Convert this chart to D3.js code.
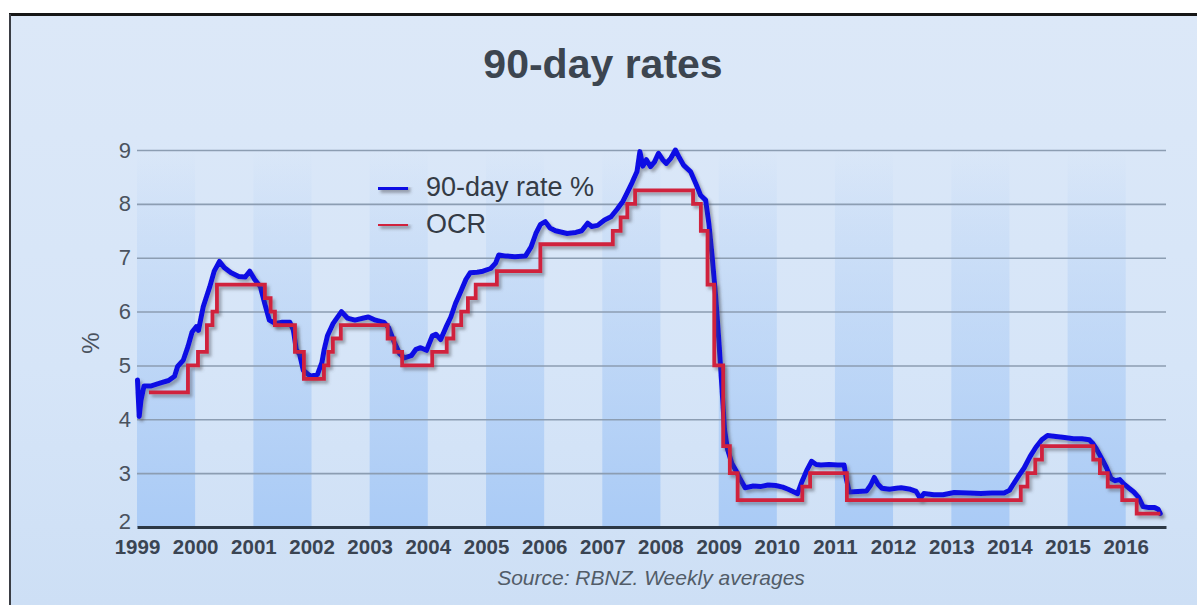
<!DOCTYPE html>
<html>
<head>
<meta charset="utf-8">
<script src="https://cdn.jsdelivr.net/npm/d3@7"></script>
<style>
  html, body { margin: 0; padding: 0; background: #ffffff; }
  svg { display: block; }
</style>
</head>
<body>
<svg id="chart" width="1197" height="605"></svg>
<script>
// 90-day bank bill rate, weekly averages (sampled)
const bankBillDates = [
  "1999-01-04","1999-01-15","1999-01-26","1999-02-14","1999-04-01","1999-05-25","1999-07-19","1999-08-25",
  "1999-09-13","1999-10-19","1999-11-17","1999-12-13","2000-01-08","2000-01-22","2000-02-21","2000-04-01",
  "2000-04-30","2000-06-02","2000-07-01","2000-08-14","2000-10-01","2000-11-10","2000-12-09","2001-01-08",
  "2001-02-14","2001-03-13","2001-04-11","2001-05-17","2001-07-01","2001-08-18","2001-09-09","2001-09-27",
  "2001-10-19","2001-11-10","2001-12-24","2002-02-07","2002-03-07","2002-03-22","2002-04-11","2002-05-17",
  "2002-07-08","2002-08-14","2002-10-01","2002-11-25","2002-12-24","2003-02-07","2003-04-01","2003-04-30",
  "2003-06-02","2003-07-08","2003-08-07","2003-09-20","2003-10-19","2003-11-17","2003-12-24","2004-01-30",
  "2004-02-21","2004-03-22","2004-04-26","2004-05-25","2004-06-23","2004-07-23","2004-08-28","2004-09-23",
  "2004-11-07","2004-12-13","2005-01-30","2005-03-02","2005-03-22","2005-05-07","2005-07-01","2005-09-05",
  "2005-10-11","2005-11-10","2005-12-09","2006-01-08","2006-02-07","2006-03-13","2006-05-25","2006-07-19",
  "2006-08-25","2006-10-01","2006-10-27","2006-12-03","2007-01-15","2007-02-25","2007-04-04","2007-05-11",
  "2007-06-05","2007-07-08","2007-08-07","2007-08-25","2007-09-13","2007-10-05","2007-10-31","2007-11-25",
  "2007-12-20","2008-01-15","2008-02-07","2008-03-07","2008-04-04","2008-04-30","2008-05-25","2008-07-08",
  "2008-08-14","2008-09-09","2008-10-11","2008-10-31","2008-11-21","2008-12-13","2009-01-01","2009-01-19",
  "2009-02-07","2009-02-25","2009-03-25","2009-04-19","2009-05-14","2009-06-16","2009-08-07","2009-09-20",
  "2009-11-07","2009-12-24","2010-02-07","2010-03-13","2010-04-19","2010-05-11","2010-06-09","2010-07-08",
  "2010-08-07","2010-09-05","2010-10-05","2010-11-25","2011-01-19","2011-02-28","2011-03-13","2011-04-01",
  "2011-05-25","2011-07-19","2011-08-14","2011-09-05","2011-09-27","2011-10-23","2011-12-09","2012-01-22",
  "2012-02-21","2012-04-19","2012-05-25","2012-06-20","2012-07-12","2012-09-13","2012-11-10","2013-01-19",
  "2013-04-19","2013-07-05","2013-09-13","2013-11-28","2014-01-01","2014-01-22","2014-02-28","2014-04-04",
  "2014-05-11","2014-06-16","2014-07-23","2014-08-28","2014-10-19","2014-12-13","2015-02-07","2015-04-01",
  "2015-05-17","2015-06-09","2015-07-01","2015-08-07","2015-09-02","2015-10-01","2015-10-27","2015-11-25",
  "2015-12-20","2016-01-22","2016-02-21","2016-03-22","2016-04-19","2016-05-25","2016-07-01","2016-07-23",
  "2016-08-05"
];
const bankBillValues = [
  4.73,4.05,4.35,4.62,4.62,4.67,4.72,4.80,
  4.98,5.10,5.35,5.62,5.72,5.65,6.09,6.45,
  6.75,6.93,6.82,6.72,6.65,6.64,6.75,6.60,
  6.46,6.15,5.84,5.78,5.80,5.80,5.66,5.30,
  5.20,4.91,4.80,4.83,5.05,5.30,5.55,5.78,
  6.00,5.88,5.84,5.88,5.90,5.84,5.80,5.70,
  5.45,5.22,5.14,5.18,5.30,5.33,5.28,5.55,
  5.58,5.48,5.72,5.90,6.15,6.35,6.60,6.72,
  6.73,6.75,6.80,6.90,7.05,7.03,7.02,7.03,
  7.20,7.45,7.62,7.67,7.55,7.50,7.45,7.47,
  7.50,7.64,7.58,7.60,7.70,7.76,7.90,8.05,
  8.20,8.40,8.60,8.97,8.70,8.82,8.69,8.78,
  8.94,8.82,8.75,8.85,9.00,8.85,8.72,8.60,
  8.35,8.16,8.07,7.64,7.02,6.28,5.50,4.70,
  3.80,3.45,3.18,3.05,2.90,2.73,2.76,2.75,
  2.78,2.77,2.74,2.70,2.65,2.62,2.85,3.05,
  3.22,3.16,3.15,3.16,3.15,3.15,2.90,2.65,
  2.66,2.67,2.78,2.92,2.80,2.72,2.70,2.72,
  2.73,2.70,2.66,2.53,2.62,2.60,2.60,2.64,
  2.63,2.62,2.63,2.63,2.68,2.78,2.95,3.10,
  3.31,3.48,3.62,3.70,3.68,3.66,3.64,3.64,
  3.62,3.55,3.45,3.25,3.10,2.90,2.86,2.88,
  2.80,2.72,2.65,2.55,2.38,2.36,2.36,2.33,
  2.25
];

// Official Cash Rate decisions (effective dates)
const ocrDates = [
  "1999-03-17","1999-11-17","2000-01-19","2000-03-15","2000-04-19","2000-05-17","2001-03-14","2001-04-19",
  "2001-05-16","2001-09-19","2001-11-14","2002-03-20","2002-04-17","2002-05-15","2002-07-04","2003-04-24",
  "2003-06-05","2003-07-24","2004-01-29","2004-04-29","2004-06-10","2004-07-29","2004-09-09","2004-10-28",
  "2005-03-10","2005-12-08","2007-03-08","2007-04-26","2007-06-07","2007-07-26","2008-07-24","2008-09-11",
  "2008-10-23","2008-12-04","2009-01-29","2009-03-12","2009-04-30","2010-06-10","2010-07-29","2011-03-17",
  "2014-03-13","2014-04-24","2014-06-12","2014-07-24","2015-06-11","2015-07-23","2015-09-10","2015-12-10",
  "2016-03-10","2016-08-05"
];
const ocrValues = [
  4.50,5.00,5.25,5.75,6.00,6.50,6.25,6.00,
  5.75,5.25,4.75,5.00,5.25,5.50,5.75,5.50,
  5.25,5.00,5.25,5.50,5.75,6.00,6.25,6.50,
  6.75,7.25,7.50,7.75,8.00,8.25,8.00,7.50,
  6.50,5.00,3.50,3.00,2.50,2.75,3.00,2.50,
  2.75,3.00,3.25,3.50,3.25,3.00,2.75,2.50,
  2.25,2.25
];

const yearTicks = d3.range(1999, 2017);
const rateTicks = [2, 3, 4, 5, 6, 7, 8, 9];
const seriesNames = ["90-day rate %", "OCR"];

const parse = d3.timeParse("%Y-%m-%d");
const bankBill = bankBillDates.map((d, i) => ({ date: parse(d), value: bankBillValues[i] }));
const ocr = ocrDates.map((d, i) => ({ date: parse(d), value: ocrValues[i] }));

const W = 1197, H = 605;
const plot = { left: 137, right: 1166, top: 150, bottom: 527 };

const svg = d3.select("#chart");
const defs = svg.append("defs");

const bg = defs.append("linearGradient").attr("id", "panelGrad")
  .attr("x1", 0).attr("y1", 0).attr("x2", 0).attr("y2", 1);
bg.append("stop").attr("offset", "0%").attr("stop-color", "#dce8f8");
bg.append("stop").attr("offset", "60%").attr("stop-color", "#d6e5f8");
bg.append("stop").attr("offset", "100%").attr("stop-color", "#cddff5");

const bandGrad = defs.append("linearGradient").attr("id", "bandGrad")
  .attr("gradientUnits", "userSpaceOnUse")
  .attr("x1", 0).attr("y1", plot.top).attr("x2", 0).attr("y2", plot.bottom);
bandGrad.append("stop").attr("offset", "0%").attr("stop-color", "#aecdf5").attr("stop-opacity", 0);
bandGrad.append("stop").attr("offset", "20%").attr("stop-color", "#aecdf5").attr("stop-opacity", 0.25);
bandGrad.append("stop").attr("offset", "100%").attr("stop-color", "#aacbf6").attr("stop-opacity", 1);

// soft drop shadow under the series lines (user-space region so flat lines keep it)
const shadow = defs.append("filter").attr("id", "lineShadow")
  .attr("filterUnits", "userSpaceOnUse")
  .attr("x", 0).attr("y", 0).attr("width", W).attr("height", H);
shadow.append("feDropShadow").attr("dx", 2.5).attr("dy", 3).attr("stdDeviation", 1.4)
  .attr("flood-color", "#4a4a55").attr("flood-opacity", 0.45);

// panel
svg.append("rect").attr("x", 9).attr("y", 14).attr("width", W - 9).attr("height", H - 14)
  .attr("fill", "url(#panelGrad)");
svg.append("line").attr("x1", 9).attr("x2", W).attr("y1", 14.5).attr("y2", 14.5)
  .attr("stroke", "#161616").attr("stroke-width", 3);
svg.append("line").attr("x1", 10).attr("x2", 10).attr("y1", 14).attr("y2", H)
  .attr("stroke", "#3a3d44").attr("stroke-width", 2);

const x = d3.scaleTime()
  .domain([new Date(1999, 0, 1), new Date(2016, 8, 10)])
  .range([plot.left, plot.right]);
const y = d3.scaleLinear().domain([2, 9]).range([plot.bottom, plot.top]);

// alternating year bands
svg.append("g").selectAll("rect")
  .data(yearTicks.filter(yr => yr % 2 === 1))
  .join("rect")
  .attr("x", yr => x(new Date(yr, 0, 1)))
  .attr("width", yr => Math.min(x(new Date(yr + 1, 0, 1)), plot.right) - x(new Date(yr, 0, 1)))
  .attr("y", plot.top)
  .attr("height", plot.bottom - plot.top)
  .attr("fill", "url(#bandGrad)");

// y axis with gridlines
const yAxis = svg.append("g")
  .attr("transform", `translate(${plot.left},0)`)
  .call(d3.axisLeft(y).tickValues(rateTicks).tickFormat(d3.format("d"))
    .tickSize(-(plot.right - plot.left)).tickPadding(6));
yAxis.select(".domain").remove();
yAxis.selectAll(".tick line")
  .attr("stroke", "#8c9db2").attr("stroke-width", 1.6)
  .attr("stroke-opacity", d => d === 2 ? 0 : 1);
yAxis.selectAll(".tick text")
  .attr("fill", "#4a525e")
  .style("font-family", "'Liberation Sans', Arial, sans-serif")
  .style("font-size", "22px");
// the lowest label sits just above the year labels
yAxis.selectAll(".tick text").filter(d => d === 2).attr("dy", "0.05em");

// x axis
const xAxis = svg.append("g")
  .attr("transform", `translate(0,${plot.bottom})`)
  .call(d3.axisBottom(x).tickValues(yearTicks.map(yr => new Date(yr, 0, 1)))
    .tickFormat(d3.timeFormat("%Y")).tickSize(0).tickPadding(12));
xAxis.select(".domain")
  .attr("stroke", "#2c3845").attr("stroke-width", 3.2);
xAxis.selectAll(".tick text")
  .attr("fill", "#3a4452")
  .style("font-family", "'Liberation Sans', Arial, sans-serif")
  .style("font-size", "20.5px")
  .style("font-weight", "bold");

// series
const line = d3.line().x(d => x(d.date)).y(d => y(d.value));
const stepLine = d3.line().x(d => x(d.date)).y(d => y(d.value)).curve(d3.curveStepAfter);

svg.append("path").datum(bankBill)
  .attr("d", line)
  .attr("fill", "none").attr("stroke", "#1010e4").attr("stroke-width", 5)
  .attr("stroke-linejoin", "round").attr("stroke-linecap", "round")
  .attr("filter", "url(#lineShadow)");

svg.append("path").datum(ocr)
  .attr("d", stepLine)
  .attr("fill", "none").attr("stroke", "#d0203e").attr("stroke-width", 3.8)
  .attr("stroke-linejoin", "miter")
  .attr("filter", "url(#lineShadow)");

// legend
const legend = svg.append("g").attr("transform", "translate(378,187)");
const legendColors = ["#1010e4", "#d0203e"];
const legendWidths = [6, 4];
seriesNames.forEach((name, i) => {
  const g = legend.append("g").attr("transform", `translate(0,${i * 37})`);
  g.append("line").attr("x1", 0).attr("x2", 30).attr("y1", 0).attr("y2", 0)
    .attr("stroke", legendColors[i]).attr("stroke-width", legendWidths[i])
    .attr("filter", "url(#lineShadow)");
  g.append("text").attr("x", 48).attr("y", 0).attr("dy", "0.35em")
    .attr("fill", "#343b45")
    .style("font-family", "'Liberation Sans', Arial, sans-serif")
    .style("font-size", "27px")
    .text(name);
});

// titles
svg.append("text").attr("x", 603).attr("y", 78).attr("text-anchor", "middle")
  .attr("fill", "#3c4550")
  .style("font-family", "'Liberation Sans', Arial, sans-serif")
  .style("font-size", "41px").style("font-weight", "bold")
  .text("90-day rates");

svg.append("text")
  .attr("transform", "translate(99,343) rotate(-90)")
  .attr("text-anchor", "middle")
  .attr("fill", "#4a525e")
  .style("font-family", "'Liberation Sans', Arial, sans-serif")
  .style("font-size", "24px")
  .text("%");

svg.append("text").attr("x", 651).attr("y", 585).attr("text-anchor", "middle")
  .attr("fill", "#525c68")
  .style("font-family", "'Liberation Sans', Arial, sans-serif")
  .style("font-size", "21px").style("font-style", "italic")
  .text("Source: RBNZ. Weekly averages");
</script>
</body>
</html>
